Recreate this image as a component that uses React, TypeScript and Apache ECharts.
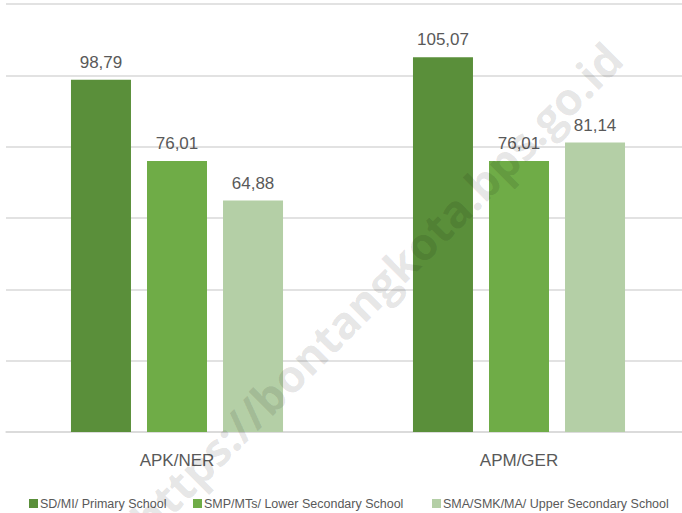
import React, { useEffect, useRef } from "react";
import * as echarts from "echarts";

const categories = ["APK/NER", "APM/GER"];
const seriesNames = [
  "SD/MI/ Primary School",
  "SMP/MTs/ Lower Secondary School",
  "SMA/SMK/MA/ Upper Secondary School",
];
const primary = [98.79, 105.07];
const lowerSecondary = [76.01, 76.01];
const upperSecondary = [64.88, 81.14];
const colors = ["#5a8f3a", "#6fac47", "#b4cfa6"];
const legendLefts = [24, 188, 427];
const watermark = "https://bontangkota.bps.go.id";

export default function App() {
  const ref = useRef<HTMLDivElement>(null);
  useEffect(() => {
    const chart = echarts.init(ref.current!, null, { renderer: "svg" });
    const font = "'Liberation Sans', Arial, sans-serif";
    const wmFont = "'Open Sans', 'Noto Sans', sans-serif";
    const mk = (name: string, data: number[], color: string) => ({
      name,
      type: "bar",
      data,
      barWidth: 60,
      barGap: "26.7%",
      itemStyle: { color },
      label: {
        show: true,
        position: "top",
        distance: 9,
        color: "#595959",
        fontSize: 17,
        fontFamily: font,
        formatter: (p: any) => p.value.toFixed(2).replace(".", ","),
      },
    });
    chart.setOption({
      animation: false,
      color: colors,
      grid: { left: 6, width: 684, top: 4, bottom: 81, containLabel: false },
      legend: seriesNames.map((n, i) => ({
        top: 492,
        left: legendLefts[i],
        itemWidth: 9,
        itemHeight: 9,
        itemGap: 4,
        icon: "rect",
        textStyle: { color: "#595959", fontSize: 12.5, fontFamily: font, padding: [0, 0, 0, -3] },
        data: [n],
      })),
      xAxis: {
        type: "category",
        data: categories,
        axisTick: { show: false },
        axisLine: { lineStyle: { color: "#d9d9d9", width: 1.5 } },
        axisLabel: { color: "#595959", fontSize: 17, fontFamily: font, margin: 20 },
      },
      yAxis: {
        type: "value",
        min: 0,
        max: 120,
        interval: 20,
        axisLabel: { show: false },
        axisLine: { show: false },
        axisTick: { show: false },
        splitLine: { lineStyle: { color: "#d9d9d9", width: 1.5 } },
      },
      graphic: [
        {
          type: "text",
          x: 376,
          y: 288,
          rotation: Math.PI / 4,
          z: 100,
          style: {
            text: watermark,
            fill: "rgba(0,0,0,0.11)",
            font: `bold 45px ${wmFont}`,
            align: "center",
            verticalAlign: "middle",
          },
        },
      ],
      series: [
        mk(seriesNames[0], primary, colors[0]),
        mk(seriesNames[1], lowerSecondary, colors[1]),
        mk(seriesNames[2], upperSecondary, colors[2]),
      ],
    });
    return () => chart.dispose();
  }, []);
  return (
    <div style={{ position: "absolute", left: 0, top: 0, width: 682, height: 513, overflow: "hidden" }}>
      <div ref={ref} style={{ width: 690, height: 513 }} />
    </div>
  );
}
